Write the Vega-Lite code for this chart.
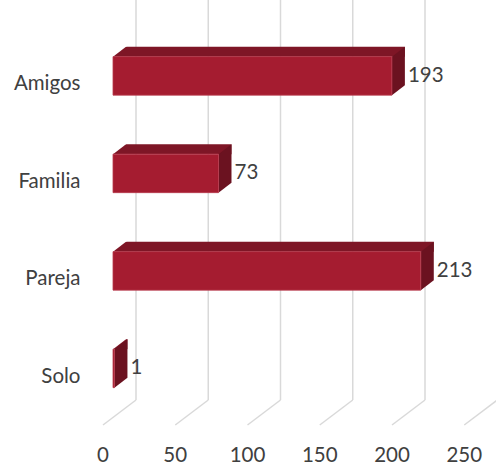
{
  "$schema": "https://vega.github.io/schema/vega-lite/v6.json",
  "width": 361.25,
  "height": 390,
  "autosize": {"type": "none"},
  "padding": {"left": 113, "top": 27.15, "right": 21.75, "bottom": 52.85},
  "background": "white",
  "config": {
    "view": {"stroke": null},
    "font": "Lato",
    "axisX": {"domain": false, "ticks": false, "grid": false, "labelOffset": -10.5, "labelPadding": 38, "labelBaseline": "middle", "labelFlush": false, "labelOverlap": false, "labelFontSize": 20.5, "labelColor": "#404040", "labelFont": "Lato"},
    "axisY": {"domain": false, "ticks": false, "grid": false, "labelPadding": 33, "labelOffset": 8.5, "labelBaseline": "middle", "labelFontSize": 20.5, "labelColor": "#404040", "labelFont": "Lato"}
  },
  "datasets": {
    "bars": [
      {"cat": "Amigos", "n": 193},
      {"cat": "Familia", "n": 73},
      {"cat": "Pareja", "n": 213},
      {"cat": "Solo", "n": 1}
    ],
    "ticks": [{"t": 0}, {"t": 50}, {"t": 100}, {"t": 150}, {"t": 200}, {"t": 250}]
  },
  "layer": [
    {
      "data": {"name": "ticks"},
      "mark": {"type": "rule", "color": "#d9d9d9", "strokeWidth": 1.5, "xOffset": 23, "x2Offset": 23, "yOffset": -76, "y2Offset": 31.6},
      "encoding": {
        "x": {"field": "t", "type": "quantitative", "scale": {"domain": [0, 250], "nice": false}, "axis": {"title": null, "values": [0, 50, 100, 150, 200, 250]}},
        "y": {"datum": "Amigos", "type": "nominal", "scale": {"domain": ["Amigos", "Familia", "Pareja", "Solo"], "paddingInner": 0, "paddingOuter": 0}, "axis": {"title": null}},
        "y2": {"datum": "Solo"}
      }
    },
    {
      "data": {"name": "ticks"},
      "mark": {"type": "rule", "color": "#d9d9d9", "strokeWidth": 1.5, "xOffset": 23, "x2Offset": -10, "yOffset": 31.6, "y2Offset": 56.6},
      "encoding": {
        "x": {"field": "t", "type": "quantitative", "scale": {"domain": [0, 250], "nice": false}, "axis": {"title": null, "values": [0, 50, 100, 150, 200, 250]}},
        "x2": {"field": "t"},
        "y": {"datum": "Solo", "type": "nominal", "scale": {"domain": ["Amigos", "Familia", "Pareja", "Solo"], "paddingInner": 0, "paddingOuter": 0}, "axis": {"title": null}},
        "y2": {"datum": "Solo"}
      }
    },
    {
      "data": {"name": "bars"},
      "mark": {"type": "bar", "color": "#7e1626", "height": 10, "xOffset": 13, "yOffset": -24.25},
      "encoding": {
        "x": {"field": "n", "type": "quantitative", "scale": {"domain": [0, 250], "nice": false}, "axis": {"title": null, "values": [0, 50, 100, 150, 200, 250]}},
        "x2": {"datum": 0},
        "y": {"field": "cat", "type": "nominal", "scale": {"domain": ["Amigos", "Familia", "Pareja", "Solo"], "paddingInner": 0, "paddingOuter": 0}, "axis": {"title": null}}
      }
    },
    {
      "data": {"name": "bars"},
      "mark": {"type": "point", "shape": "M-2,-31L15.28,-31L0,-19.25L-2,-19.25Z", "size": 4, "filled": true, "color": "white", "opacity": 1, "strokeWidth": 0},
      "encoding": {
        "x": {"datum": 0, "type": "quantitative", "scale": {"domain": [0, 250], "nice": false}, "axis": {"title": null, "values": [0, 50, 100, 150, 200, 250]}},
        "y": {"field": "cat", "type": "nominal", "scale": {"domain": ["Amigos", "Familia", "Pareja", "Solo"], "paddingInner": 0, "paddingOuter": 0}, "axis": {"title": null}}
      }
    },
    {
      "data": {"name": "bars"},
      "mark": {"type": "point", "shape": "M0,-19.25L13,-29.25L13,9.25L0,19.25Z", "size": 4, "filled": true, "color": "#6b1220", "opacity": 1, "strokeWidth": 0},
      "encoding": {
        "x": {"field": "n", "type": "quantitative", "scale": {"domain": [0, 250], "nice": false}, "axis": {"title": null, "values": [0, 50, 100, 150, 200, 250]}},
        "y": {"field": "cat", "type": "nominal", "scale": {"domain": ["Amigos", "Familia", "Pareja", "Solo"], "paddingInner": 0, "paddingOuter": 0}, "axis": {"title": null}}
      }
    },
    {
      "data": {"name": "bars"},
      "mark": {"type": "bar", "color": "#a51c30", "height": 38.5, "stroke": "#b83a4c", "strokeWidth": 0.8},
      "encoding": {
        "x": {"field": "n", "type": "quantitative", "scale": {"domain": [0, 250], "nice": false}, "axis": {"title": null, "values": [0, 50, 100, 150, 200, 250]}},
        "y": {"field": "cat", "type": "nominal", "scale": {"domain": ["Amigos", "Familia", "Pareja", "Solo"], "paddingInner": 0, "paddingOuter": 0}, "axis": {"title": null}}
      }
    },
    {
      "data": {"name": "bars"},
      "mark": {"type": "text", "align": "left", "baseline": "middle", "dx": 16, "fontSize": 20.5, "color": "#404040", "font": "Lato"},
      "encoding": {
        "x": {"field": "n", "type": "quantitative", "scale": {"domain": [0, 250], "nice": false}, "axis": {"title": null, "values": [0, 50, 100, 150, 200, 250]}},
        "y": {"field": "cat", "type": "nominal", "scale": {"domain": ["Amigos", "Familia", "Pareja", "Solo"], "paddingInner": 0, "paddingOuter": 0}, "axis": {"title": null}},
        "text": {"field": "n", "type": "quantitative"}
      }
    }
  ]
}
